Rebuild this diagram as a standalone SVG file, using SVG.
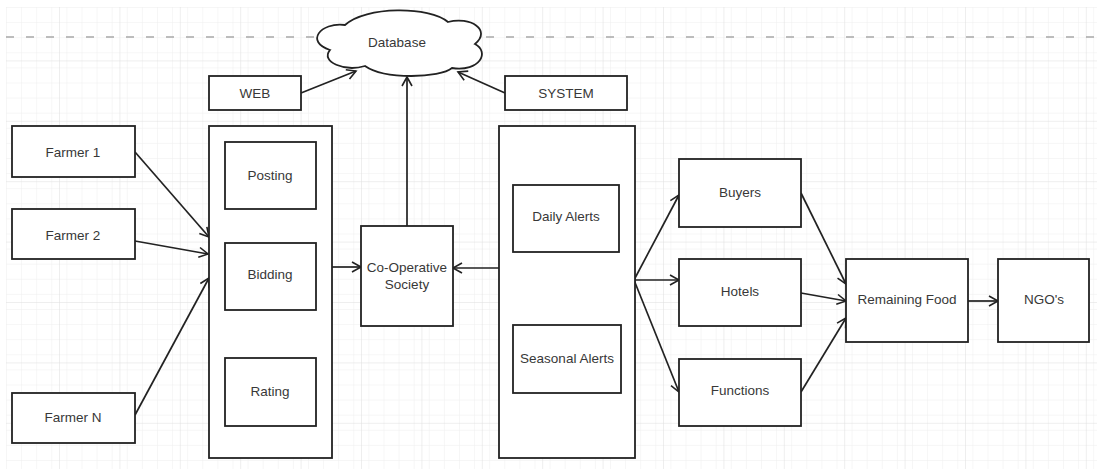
<svg xmlns="http://www.w3.org/2000/svg" width="1097" height="469" viewBox="0 0 1097 469">
<style>
.box{fill:#fff;stroke:#222;stroke-width:1.8}
.lbl{font-family:"Liberation Sans",Arial,sans-serif;font-size:13.5px;fill:#383838;text-anchor:middle}
.con{fill:none;stroke:#222;stroke-width:1.7;marker-end:url(#arr)}
</style>
<defs>
<pattern id="minor" x="6" y="7" width="15.1" height="15.1" patternUnits="userSpaceOnUse">
<path d="M0,0 H15.1 M0,0 V15.1" fill="none" stroke="#eeeeee" stroke-width="1"/>
</pattern>
<pattern id="major" x="-1.4" y="0" width="60.4" height="60.4" patternUnits="userSpaceOnUse">
<path d="M0,0 H60.4 M0,0 V60.4" fill="none" stroke="#dedede" stroke-width="1"/>
</pattern>
<marker id="arr" markerUnits="userSpaceOnUse" markerWidth="14" markerHeight="14" refX="10" refY="6" orient="auto">
<path d="M1,1 L10,6 L1,11" fill="none" stroke="#222" stroke-width="1.6"/>
</marker>
</defs>
<rect x="0" y="0" width="1097" height="469" fill="#fff"/>
<rect x="6" y="7" width="1091" height="462" fill="url(#minor)"/>
<rect x="6" y="7" width="1091" height="462" fill="url(#major)"/>
<line x1="6" y1="37" x2="1097" y2="37" stroke="#a8a8a8" stroke-width="1.5" stroke-dasharray="8 12"/>

<g id="connectors">
<line class="con" x1="135" y1="152" x2="209" y2="237"/>
<line class="con" x1="135" y1="241" x2="208" y2="254"/>
<line class="con" x1="135" y1="415" x2="209" y2="278"/>
<line class="con" x1="332" y1="267" x2="361" y2="267"/>
<line class="con" x1="499" y1="268" x2="453" y2="268"/>
<line class="con" x1="407" y1="226" x2="407" y2="77"/>
<line class="con" x1="301" y1="93" x2="356" y2="71"/>
<line class="con" x1="505" y1="93" x2="458" y2="72"/>
<line class="con" x1="634" y1="280" x2="679" y2="195"/>
<line class="con" x1="634" y1="280" x2="679" y2="280"/>
<line class="con" x1="634" y1="280" x2="679" y2="392"/>
<line class="con" x1="801" y1="193" x2="846" y2="284"/>
<line class="con" x1="801" y1="293" x2="846" y2="301"/>
<line class="con" x1="801" y1="392" x2="846" y2="318"/>
<line class="con" x1="968" y1="301" x2="998" y2="301"/>
</g>

<g id="database">
<path class="box" d="M345,25 C320,22 305,42 330,50 C320,62 345,72 365,66 C385,80 440,78 452,68 C480,72 490,52 475,44 C492,30 470,16 448,22 C430,6 365,6 345,25 Z"/>
<text class="lbl" x="397" y="47">Database</text>
</g>
<g id="web"><rect class="box" x="209" y="76" width="92" height="34"/><text class="lbl" x="255" y="98">WEB</text></g>
<g id="system"><rect class="box" x="505" y="76" width="122" height="34"/><text class="lbl" x="566" y="98">SYSTEM</text></g>

<g id="farmer1"><rect class="box" x="12" y="126" width="123" height="51"/><text class="lbl" x="73" y="157">Farmer 1</text></g>
<g id="farmer2"><rect class="box" x="12" y="209" width="123" height="50"/><text class="lbl" x="73" y="240">Farmer 2</text></g>
<g id="farmerN"><rect class="box" x="12" y="393" width="123" height="50"/><text class="lbl" x="73" y="422">Farmer N</text></g>

<g id="webContainer"><rect class="box" x="209" y="126" width="123" height="332"/></g>
<g id="posting"><rect class="box" x="225" y="142" width="91" height="67"/><text class="lbl" x="270" y="180">Posting</text></g>
<g id="bidding"><rect class="box" x="225" y="243" width="91" height="67"/><text class="lbl" x="270" y="279">Bidding</text></g>
<g id="rating"><rect class="box" x="225" y="358" width="91" height="68"/><text class="lbl" x="270" y="396">Rating</text></g>

<g id="coop"><rect class="box" x="361" y="226" width="92" height="100"/><text class="lbl" x="407" y="272">Co-Operative</text><text class="lbl" x="407" y="289">Society</text></g>

<g id="systemContainer"><rect class="box" x="499" y="126" width="136" height="332"/></g>
<g id="daily"><rect class="box" x="513" y="185" width="106" height="67"/><text class="lbl" x="566" y="221">Daily Alerts</text></g>
<g id="seasonal"><rect class="box" x="513" y="325" width="108" height="68"/><text class="lbl" x="567" y="363">Seasonal Alerts</text></g>

<g id="buyers"><rect class="box" x="679" y="159" width="122" height="68"/><text class="lbl" x="740" y="197">Buyers</text></g>
<g id="hotels"><rect class="box" x="679" y="259" width="122" height="67"/><text class="lbl" x="740" y="296">Hotels</text></g>
<g id="functions"><rect class="box" x="679" y="359" width="122" height="67"/><text class="lbl" x="740" y="395">Functions</text></g>

<g id="remaining"><rect class="box" x="846" y="259" width="122" height="83"/><text class="lbl" x="907" y="304">Remaining Food</text></g>
<g id="ngo"><rect class="box" x="998" y="259" width="91" height="83"/><text class="lbl" x="1044" y="304">NGO's</text></g>
</svg>
